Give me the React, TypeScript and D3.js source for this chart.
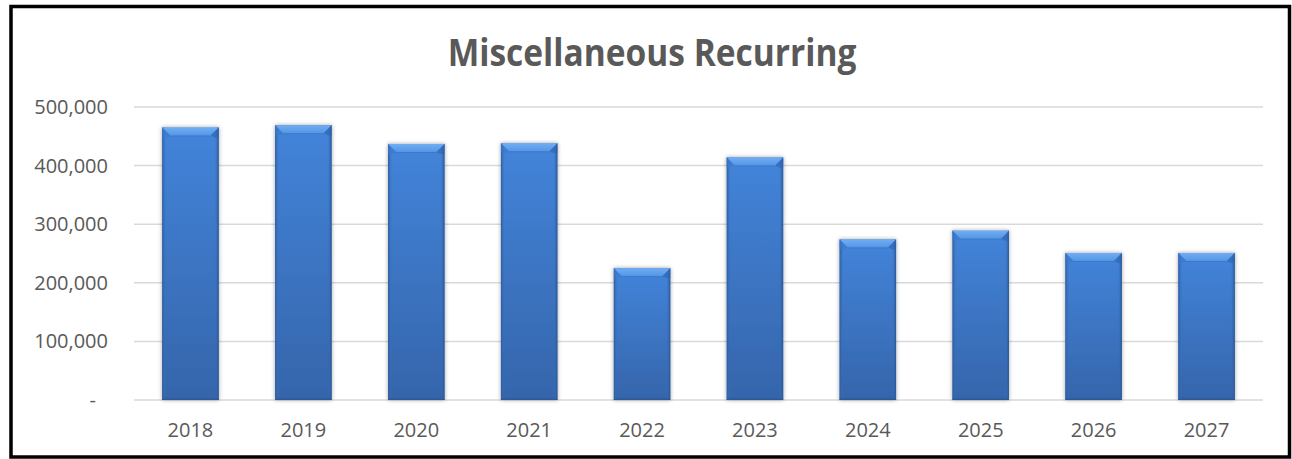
import React from "react";
import * as d3 from "d3";

const categories = ["2018", "2019", "2020", "2021", "2022", "2023", "2024", "2025", "2026", "2027"];
const values = [465000, 469000, 437000, 438000, 225000, 414000, 274000, 289000, 251000, 251000];
const tickValues = [0, 100000, 200000, 300000, 400000, 500000];
const tickLabels = ["-", "100,000", "200,000", "300,000", "400,000", "500,000"];
const title = "Miscellaneous Recurring";

const W = 1292;
const H = 459;
const plot = { left: 134, right: 1263, top: 107, bottom: 400 };
const textColor = "#595959";
const font = "'Open Sans', 'Liberation Sans', sans-serif";

export default function App() {
  const x = d3
    .scaleBand<string>()
    .domain(categories)
    .range([plot.left, plot.right])
    .paddingInner(0.5)
    .paddingOuter(0.25);
  const y = d3.scaleLinear().domain([0, 500000]).range([plot.bottom, plot.top]);
  const bw = x.bandwidth();
  const bev = 8;

  return (
    <svg
      width={W}
      height={H}
      style={{ position: "absolute", left: 0, top: 0, background: "#fff" }}
    >
      <defs>
        <linearGradient id="body" x1="0" y1="0" x2="0" y2="1">
          <stop offset="0" stopColor="#4384da" />
          <stop offset="1" stopColor="#3565ab" />
        </linearGradient>
        <linearGradient id="topBev" x1="0" y1="0" x2="0" y2="1">
          <stop offset="0" stopColor="#72adf2" />
          <stop offset="1" stopColor="#5496e6" />
        </linearGradient>
        <linearGradient id="leftBev" x1="0" y1="0" x2="1" y2="0">
          <stop offset="0" stopColor="#2f5d9e" />
          <stop offset="1" stopColor="#3a74c4" stopOpacity="0" />
        </linearGradient>
        <linearGradient id="rightBev" x1="1" y1="0" x2="0" y2="0">
          <stop offset="0" stopColor="#2a5592" />
          <stop offset="1" stopColor="#3a74c4" stopOpacity="0" />
        </linearGradient>
        <linearGradient id="botBev" x1="0" y1="1" x2="0" y2="0">
          <stop offset="0" stopColor="#2b5590" />
          <stop offset="1" stopColor="#3565ab" stopOpacity="0" />
        </linearGradient>
        <filter id="shadow" x="-20%" y="-10%" width="140%" height="120%">
          <feGaussianBlur in="SourceAlpha" stdDeviation="2" />
          <feOffset dx="0" dy="0" result="b" />
          <feComponentTransfer>
            <feFuncA type="linear" slope="0.35" />
          </feComponentTransfer>
          <feMerge>
            <feMergeNode />
            <feMergeNode in="SourceGraphic" />
          </feMerge>
        </filter>
      </defs>

      <rect x={11} y={6.5} width={1278.5} height={450.5} fill="#fff" stroke="#000" strokeWidth={3.5} />

      <text
        x={652}
        y={66}
        textAnchor="middle"
        fontFamily={font}
        fontWeight={700}
        fontSize={33.5}
        fill={textColor}
        transform="translate(0,66) scale(1,1.1) translate(0,-66)"
      >
        {title}
      </text>

      {tickValues.map((v, i) => (
        <g key={v}>
          <line
            x1={plot.left}
            x2={plot.right}
            y1={y(v)}
            y2={y(v)}
            stroke="#d9d9d9"
            strokeWidth={1.5}
          />
          <text
            x={tickLabels[i] === "-" ? 96 : 108}
            y={y(v) + 7}
            textAnchor="end"
            fontFamily={font}
            fontSize={20}
            fill={textColor}
          >
            {tickLabels[i]}
          </text>
        </g>
      ))}

      {categories.map((c, i) => {
        const x0 = x(c)!;
        const y0 = y(values[i]);
        const y1 = y(0);
        const h = y1 - y0;
        return (
          <g key={c} filter="url(#shadow)">
            <rect x={x0} y={y0} width={bw} height={h} fill="url(#body)" />
            <rect x={x0} y={y0} width={4} height={h} fill="url(#leftBev)" />
            <rect x={x0 + bw - 4} y={y0} width={4} height={h} fill="url(#rightBev)" />
            <rect x={x0} y={y1 - 4} width={bw} height={4} fill="url(#botBev)" />
            <path
              d={`M${x0},${y0}L${x0 + bw},${y0}L${x0 + bw - bev},${y0 + bev}L${x0 + bev},${y0 + bev}Z`}
              fill="url(#topBev)"
            />
            <line
              x1={x0 + bev}
              x2={x0 + bw - bev}
              y1={y0 + bev + 0.5}
              y2={y0 + bev + 0.5}
              stroke="#3670c0"
              strokeWidth={1}
              opacity={0.6}
            />
            <path
              d={`M${x0},${y0}L${x0 + bev},${y0 + bev}L${x0 + 4},${y0 + bev + 2}L${x0},${y0 + bev + 2}Z`}
              fill="#3b78cc"
              opacity={0.6}
            />
            <path
              d={`M${x0 + bw},${y0}L${x0 + bw - bev},${y0 + bev}L${x0 + bw - 4},${y0 + bev + 2}L${x0 + bw},${y0 + bev + 2}Z`}
              fill="#2d62ad"
              opacity={0.6}
            />
          </g>
        );
      })}

      {categories.map((c) => (
        <text
          key={c}
          x={x(c)! + bw / 2}
          y={437}
          textAnchor="middle"
          fontFamily={font}
          fontSize={20}
          fill={textColor}
        >
          {c}
        </text>
      ))}
    </svg>
  );
}
